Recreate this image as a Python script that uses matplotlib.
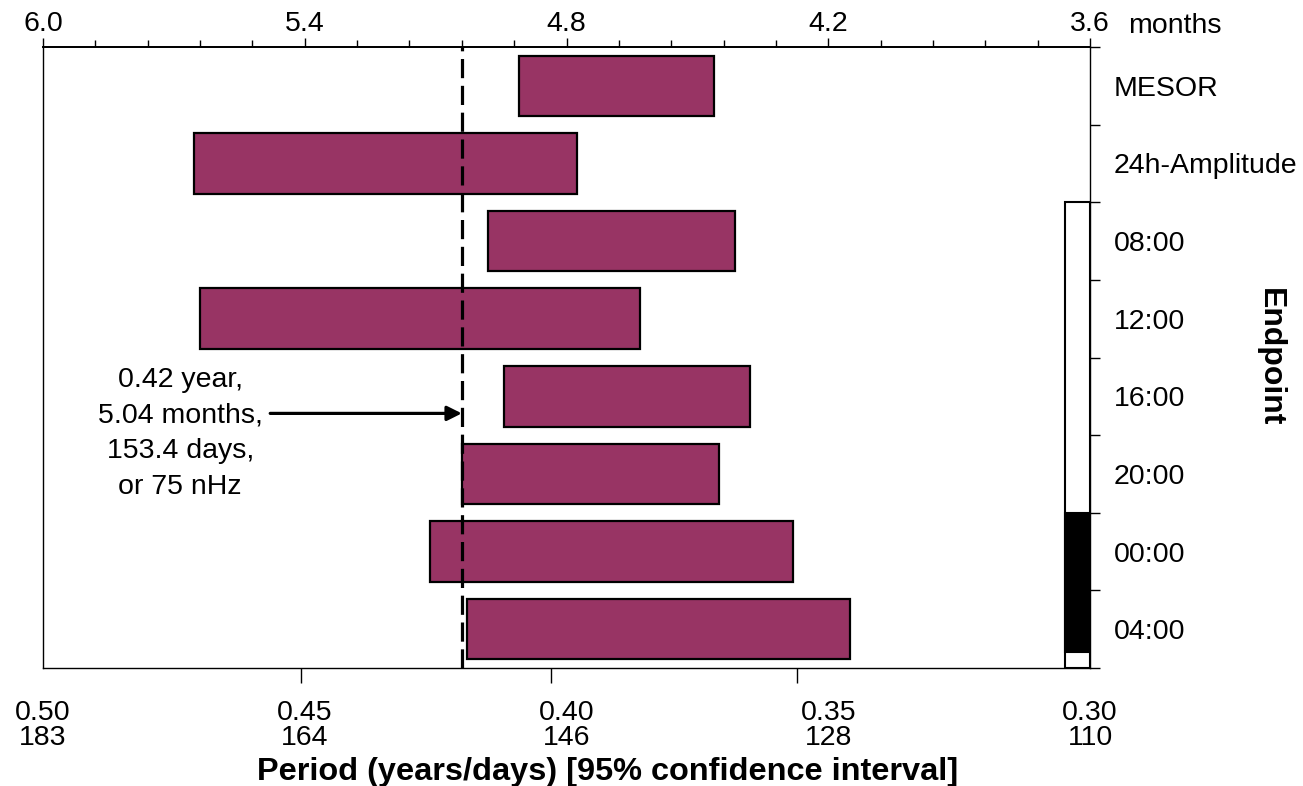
import numpy as np
import matplotlib
matplotlib.use("Agg")
import matplotlib.pyplot as plt
from matplotlib.patches import Rectangle
from matplotlib import transforms

plt.rcParams['font.family'] = ['Liberation Sans', 'DejaVu Sans']

# Endpoints (rows, top to bottom) and 95% CI of the period in years
endpoints = ["MESOR", "24h-Amplitude", "08:00", "12:00", "16:00", "20:00", "00:00", "04:00"]
ci_low = [0.3719, 0.3979, 0.3678, 0.3859, 0.3649, 0.3709, 0.3568, 0.3458]
ci_high = [0.4090, 0.4712, 0.4150, 0.4701, 0.4120, 0.4200, 0.4261, 0.4191]

peak_period = 0.42  # years
peak_text = "0.42 year,\n5.04 months,\n153.4 days,\nor 75 nHz"

year_ticks = [0.50, 0.45, 0.40, 0.35, 0.30]
day_labels = ["183", "164", "146", "128", "110"]
year_tick_marks = [0.4507, 0.4030, 0.3560]  # tick marks as drawn in the original
month_ticks = [6.0, 5.4, 4.8, 4.2, 3.6]

# light/dark indicator along the time-of-day rows (row units)
light_start, light_end = 1.5, 7.5
dark_start, dark_end = 5.5, 7.3

bar_color = "#983464"
fs = 20.5

fig = plt.figure(figsize=(13.03, 7.86), dpi=100)
ax = fig.add_axes([43 / 1303, 1 - 668 / 786, 1047 / 1303, 621 / 786])

y = np.arange(len(endpoints))
widths = np.array(ci_high) - np.array(ci_low)
ax.barh(y, widths, left=ci_low, height=0.78, color=bar_color,
        edgecolor="black", linewidth=1.6, zorder=2)

ax.axvline(peak_period, color="black", lw=2.3, ls=(0, (6, 2.4)), zorder=3)

ax.set_xlim(0.50, 0.30)
ax.set_ylim(7.5, -0.5)

# annotation
ax.text(0.4738, 4.48, peak_text, ha="center", va="center", fontsize=fs, linespacing=1.47)
ax.annotate("", xy=(peak_period, 4.22), xytext=(0.4566, 4.22),
            arrowprops=dict(arrowstyle="-|>", lw=2.3, color="black",
                            mutation_scale=22, shrinkA=0, shrinkB=0), zorder=4)

# light / dark bar
trans = transforms.blended_transform_factory(ax.transAxes, ax.transData)
ax.add_patch(Rectangle((0.9761, light_start), 0.0239, light_end - light_start,
                       transform=trans, facecolor="white", edgecolor="black", lw=1.5, zorder=3))
ax.add_patch(Rectangle((0.9761, dark_start), 0.0239, dark_end - dark_start,
                       transform=trans, facecolor="black", edgecolor="black", lw=1.5, zorder=3))

# bottom axis (years / days)
ax.set_xticks(year_ticks)
ax.set_xticklabels([f"{v:.2f}\n{d}" for v, d in zip(year_ticks, day_labels)], fontsize=fs)
for lab in ax.get_xticklabels():
    lab.set_linespacing(0.95)
ax.set_xticks(year_tick_marks, minor=True)
ax.tick_params(axis="x", which="major", length=0, pad=23)
ax.tick_params(axis="x", which="minor", length=11, width=1.0, direction="out")
ax.set_xlabel("Period (years/days) [95% confidence interval]", fontsize=23.4,
              fontweight="bold")
ax.xaxis.set_label_coords(0.539, -0.144)

# right axis: row boundaries as ticks, names in between
ax.yaxis.tick_right()
ax.set_yticks(np.arange(-0.5, len(endpoints), 1.0))
ax.set_yticklabels([])
ax.set_yticks(y, minor=True)
ax.set_yticklabels(endpoints, minor=True, fontsize=fs)
ax.tick_params(axis="y", which="major", length=7, width=1.0, direction="out")
ax.tick_params(axis="y", which="minor", length=0, pad=17)
ax.text(1.172, 0.5, "Endpoint", transform=ax.transAxes, rotation=270,
        ha="center", va="center", fontsize=23, fontweight="bold")

# top axis (months)
sec = ax.secondary_xaxis("top", functions=(lambda x: x * 12, lambda m: m / 12))
sec.set_xticks(month_ticks)
sec.set_xticklabels([f"{m:.1f}" for m in month_ticks], fontsize=fs)
sec.set_xticks(np.arange(3.6, 6.01, 0.12), minor=True)
sec.tick_params(which="major", length=6.5, width=1.0, pad=0.5)
sec.tick_params(which="minor", length=5, width=1.0)
sec.spines["top"].set_linewidth(1.3)
ax.text(1.036, 1.0225, "months", transform=ax.transAxes, ha="left",
        va="baseline", fontsize=fs)

for s in ax.spines.values():
    s.set_linewidth(1.0)
ax.spines["top"].set_linewidth(1.3)

fig.savefig("out.png", dpi=100)
